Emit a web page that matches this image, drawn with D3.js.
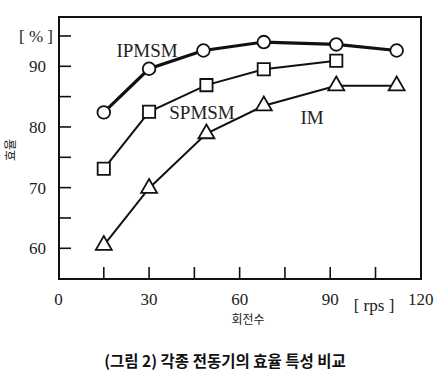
<!DOCTYPE html>
<html><head><meta charset="utf-8">
<script src="https://cdn.jsdelivr.net/npm/d3@7"></script>
<style>body{margin:0;background:#fff}svg{display:block}</style>
</head><body>
<script>
const ipmsmX = [15, 30, 48, 68, 92, 112];
const ipmsmY = [82.4, 89.6, 92.6, 94.0, 93.6, 92.6];
const spmsmX = [15, 30, 49, 68, 92];
const spmsmY = [73.1, 82.5, 86.9, 89.5, 90.9];
const imX = [15, 30, 49, 68, 92, 112];
const imY = [60.5, 69.9, 78.9, 83.5, 86.8, 86.8];
const xTicks = [0, 30, 60, 90, 120];
const yTicks = [60, 70, 80, 90];
const xMinor = [15, 30, 45, 60, 75, 90, 105];
const yMinor = [60, 65, 70, 75, 80, 85, 90, 95];

const W = 446, H = 378;
const svg = d3.select("body").append("svg").attr("width", W).attr("height", H);
const x = d3.scaleLinear().domain([0, 120]).range([58.5, 420.8]);
const y = d3.scaleLinear().domain([60, 90]).range([248.3, 66.3]);
const L = 59, R = 421, T = 17, B = 279;
const serif = "'Liberation Serif', 'DejaVu Serif', serif";

// frame
svg.append("rect").attr("x", L).attr("y", T).attr("width", R - L).attr("height", B - T)
  .attr("fill", "none").attr("stroke", "#111").attr("stroke-width", 2);

// y ticks (inward)
svg.append("g").selectAll("line").data(yMinor).join("line")
  .attr("x1", L).attr("x2", L + 12).attr("y1", d => y(d)).attr("y2", d => y(d))
  .attr("stroke", "#111").attr("stroke-width", 1.6);
// x ticks (inward)
svg.append("g").selectAll("line").data(xMinor).join("line")
  .attr("y1", B).attr("y2", B - 12).attr("x1", d => x(d)).attr("x2", d => x(d))
  .attr("stroke", "#111").attr("stroke-width", 1.6);

// y tick labels
svg.append("g").selectAll("text").data(yTicks).join("text")
  .attr("x", 46).attr("y", d => y(d) + 6).attr("text-anchor", "end")
  .attr("font-family", serif).attr("font-size", 17).attr("fill", "#222").text(d => d);
svg.append("text").attr("x", 36).attr("y", 42).attr("text-anchor", "middle")
  .attr("font-family", serif).attr("font-size", 17).attr("fill", "#222")
  .attr("xml:space", "preserve").style("white-space", "pre").text("[ % ]");

// x tick labels
svg.append("g").selectAll("text").data(xTicks).join("text")
  .attr("x", d => x(d)).attr("y", 305).attr("text-anchor", "middle")
  .attr("font-family", serif).attr("font-size", 17).attr("fill", "#222").text(d => d);
svg.append("text").attr("x", 374).attr("y", 311).attr("text-anchor", "middle")
  .attr("font-family", serif).attr("font-size", 17).attr("fill", "#222")
  .style("white-space", "pre").text("[ rps ]");

// axis titles
svg.append("text").attr("x", 248).attr("y", 324).attr("text-anchor", "middle")
  .attr("font-family", "'Noto Sans CJK KR', sans-serif").attr("font-size", 12).attr("fill", "#222").text("회전수");
svg.append("text").attr("transform", "translate(15,150) rotate(-90)").attr("text-anchor", "middle")
  .attr("font-family", "'Noto Sans CJK KR', sans-serif").attr("font-size", 12).attr("fill", "#222").text("효율");

// caption
svg.append("text").attr("x", 225).attr("y", 367).attr("text-anchor", "middle")
  .attr("font-family", "'Noto Sans CJK KR', sans-serif").attr("font-weight", 700).attr("font-size", 15.5).attr("fill", "#111").text("(그림 2) 각종 전동기의 효율 특성 비교");

const line = d3.line().x(d => x(d[0])).y(d => y(d[1]));
function series(xs, ys, width, sym, size) {
  const pts = xs.map((v, i) => [v, ys[i]]);
  svg.append("path").datum(pts).attr("d", line).attr("fill", "none")
    .attr("stroke", "#111").attr("stroke-width", width);
  svg.append("g").selectAll("path").data(pts).join("path")
    .attr("transform", d => `translate(${x(d[0])},${y(d[1])})`)
    .attr("d", d3.symbol().type(sym).size(size))
    .attr("fill", "#fff").attr("stroke", "#111").attr("stroke-width", 1.8);
}
series(imX, imY, 2, d3.symbolTriangle, 110);
series(spmsmX, spmsmY, 2, d3.symbolSquare, 150);
series(ipmsmX, ipmsmY, 3.2, d3.symbolCircle, 125);

// series labels
const lab = [["IPMSM", 147, 57], ["SPMSM", 202, 119], ["IM", 312, 124]];
svg.append("g").selectAll("text").data(lab).join("text")
  .attr("x", d => d[1]).attr("y", d => d[2]).attr("text-anchor", "middle")
  .attr("font-family", serif).attr("font-size", 19).attr("fill", "#222").text(d => d[0]);
</script>
</body></html>
